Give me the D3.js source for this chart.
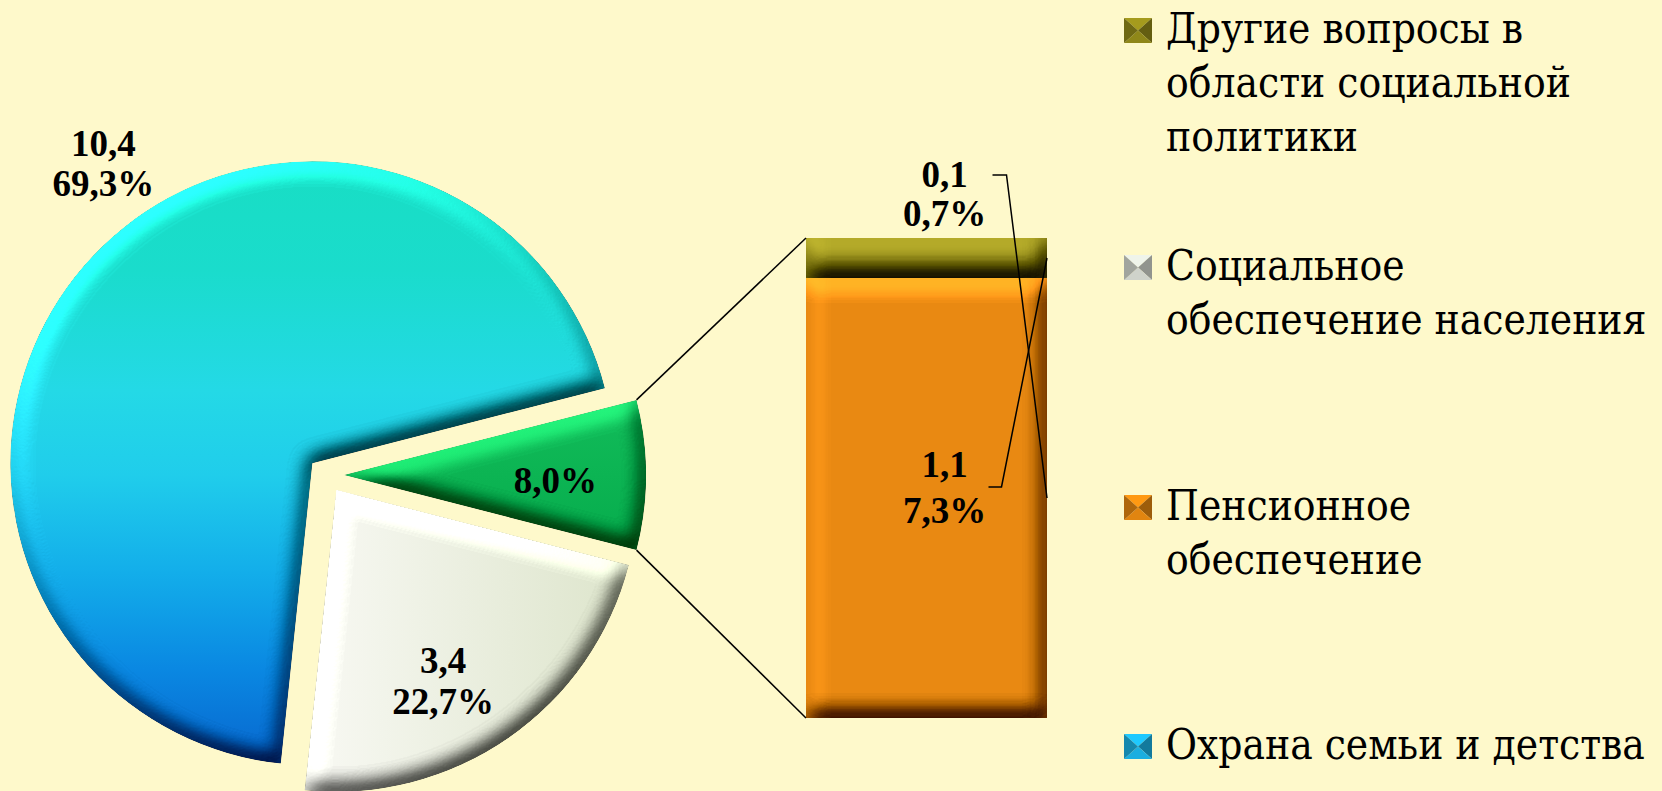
<!DOCTYPE html>
<html>
<head>
<meta charset="utf-8">
<script src="https://cdn.jsdelivr.net/npm/d3@7"></script>
<style>
  html, body { margin: 0; padding: 0; background: #FEF9CB; }
  svg { display: block; }
</style>
</head>
<body>
<svg id="chart" width="1662" height="791"></svg>
<script>
// ---------------- DATA ----------------
const mainCategories = ["Социальное обеспечение населения", "Охрана семьи и детства"];
const mainValues = [3.4, 10.4];
const mainValueLabels = ["3,4", "10,4"];
const mainPercentLabels = ["22,7%", "69,3%"];
const otherPercentLabel = "8,0%";

const barCategories = ["Пенсионное обеспечение", "Другие вопросы в области социальной политики"];
const barValues = [1.1, 0.1];
const barValueLabels = ["1,1", "0,1"];
const barPercentLabels = ["7,3%", "0,7%"];

const legendNames = [
  "Другие вопросы в области социальной политики",
  "Социальное обеспечение населения",
  "Пенсионное обеспечение",
  "Охрана семьи и детства"
];
const legendLines = [
  ["Другие вопросы в", "области социальной", "политики"],
  ["Социальное", "обеспечение населения"],
  ["Пенсионное", "обеспечение"],
  ["Охрана семьи и детства"]
];

const barColors = {
  "Другие вопросы в области социальной политики": "#8A8216",
  "Пенсионное обеспечение": "#E98912"
};
const legendColors = {
  "Другие вопросы в области социальной политики": "#8A8218",
  "Социальное обеспечение населения": "#C8CCC4",
  "Пенсионное обеспечение": "#D9800F",
  "Охрана семьи и детства": "#1AA8D8"
};

// ---------------- LAYOUT ----------------
const svg = d3.select("#chart");
const W = 1662, H = 791;
svg.append("rect").attr("width", W).attr("height", H).attr("fill", "#FEF9CB");

const cx = 326, cy = 475, R = 302, explode = 18;
const labelFont = "Liberation Serif, serif";
const legendFont = "DejaVu Serif Condensed, DejaVu Serif, serif";

const defs = svg.append("defs");

function bevelFilter(id, std, scale, elev, hl) {
  const f = defs.append("filter").attr("id", id)
    .attr("x", "-5%").attr("y", "-5%").attr("width", "110%").attr("height", "110%")
    .attr("color-interpolation-filters", "sRGB");
  f.append("feGaussianBlur").attr("in", "SourceAlpha").attr("stdDeviation", std).attr("result", "blur");
  const l = f.append("feDiffuseLighting").attr("in", "blur").attr("surfaceScale", scale)
    .attr("diffuseConstant", 1).attr("lighting-color", "#ffffff").attr("result", "light");
  l.append("feDistantLight").attr("azimuth", 245).attr("elevation", elev);
  const L0 = Math.sin(elev * Math.PI / 180);
  const a = 1.0, c = 1 - a * L0, b = hl, d = -b * L0;
  f.append("feComposite").attr("in", "SourceGraphic").attr("in2", "light")
    .attr("operator", "arithmetic").attr("k1", a).attr("k2", c).attr("k3", b).attr("k4", d)
    .attr("result", "lit");
  f.append("feComposite").attr("in", "lit").attr("in2", "SourceAlpha").attr("operator", "in");
}
bevelFilter("bevelPie", 10, 9, 50, 0.25);
bevelFilter("bevelBar", 10, 10, 50, 0.3);

// gradients (local coordinates of each slice)
const gBlue = defs.append("linearGradient").attr("id", "gBlue")
  .attr("gradientUnits", "userSpaceOnUse").attr("x1", 0).attr("y1", -R).attr("x2", 0).attr("y2", R);
[[0, "#18DEC4"], [0.18, "#1ADCCC"], [0.38, "#24D9E6"], [0.52, "#20CDEB"], [0.68, "#13AEEA"], [0.84, "#0A88E2"], [1, "#0866CE"]]
  .forEach(s => gBlue.append("stop").attr("offset", s[0]).attr("stop-color", s[1]));

const gWhite = defs.append("linearGradient").attr("id", "gWhite")
  .attr("gradientUnits", "userSpaceOnUse").attr("x1", 0).attr("y1", 0).attr("x2", R).attr("y2", 0);
[[0, "#F6F7F0"], [1, "#DCE4CA"]].forEach(s => gWhite.append("stop").attr("offset", s[0]).attr("stop-color", s[1]));

const gGreen = defs.append("linearGradient").attr("id", "gGreen")
  .attr("x1", 0).attr("y1", 0).attr("x2", 0).attr("y2", 1);
[[0, "#12BC5A"], [1, "#06AC4C"]].forEach(s => gGreen.append("stop").attr("offset", s[0]).attr("stop-color", s[1]));

const fills = {
  "Охрана семьи и детства": "url(#gBlue)",
  "Социальное обеспечение населения": "url(#gWhite)",
  "other": "url(#gGreen)"
};

// ---------------- PIE ----------------
const otherValue = d3.sum(barValues);
const pieData = [{ key: "other", value: otherValue, vlabel: null, plabel: otherPercentLabel }]
  .concat(mainCategories.map((c, i) => ({ key: c, value: mainValues[i], vlabel: mainValueLabels[i], plabel: mainPercentLabels[i] })));
const total = d3.sum(pieData, d => d.value);
const otherAngle = otherValue / total * 2 * Math.PI;
const start = Math.PI / 2 - otherAngle / 2;

const pie = d3.pie().sort(null).value(d => d.value).startAngle(start).endAngle(start + 2 * Math.PI);
const arcs = pie(pieData);
const arc = d3.arc().innerRadius(0).outerRadius(R);

function polar(a, r) { return [Math.sin(a) * r, -Math.cos(a) * r]; }

arcs.forEach(a => {
  const mid = (a.startAngle + a.endAngle) / 2;
  a.off = polar(mid, explode);
  a.mid = mid;
});
const pieG = svg.append("g").attr("transform", `translate(${cx},${cy})`);
pieG.selectAll("g.slice").data(arcs).join("g")
  .attr("class", "slice")
  .attr("transform", d => `translate(${d.off[0]},${d.off[1]})`)
  .append("path")
  .attr("d", arc)
  .attr("fill", d => fills[d.data.key])
  .attr("filter", "url(#bevelPie)");

// ---------------- BAR ----------------
const barX0 = 806, barW = 241, barTop = 238, barBottom = 718;
const y = d3.scaleLinear().domain([0, otherValue]).range([barBottom, barTop]);
let cum = 0;
const barSegs = barCategories.map((c, i) => {
  const s = { key: c, v0: cum, v1: cum + barValues[i], vlabel: barValueLabels[i], plabel: barPercentLabels[i] };
  cum += barValues[i];
  return s;
});
svg.append("g").selectAll("rect").data(barSegs).join("rect")
  .attr("x", barX0).attr("width", barW)
  .attr("y", d => y(d.v1)).attr("height", d => y(d.v0) - y(d.v1))
  .attr("fill", d => barColors[d.key])
  .attr("filter", "url(#bevelBar)");

// connector lines from the "other" slice to the bar
const oa = arcs[0];
const p1 = [cx + oa.off[0] + polar(oa.startAngle, R)[0], cy + oa.off[1] + polar(oa.startAngle, R)[1]];
const p2 = [cx + oa.off[0] + polar(oa.endAngle, R)[0], cy + oa.off[1] + polar(oa.endAngle, R)[1]];
svg.append("line").attr("x1", p1[0]).attr("y1", p1[1]).attr("x2", barX0).attr("y2", y(otherValue))
  .attr("stroke", "#000").attr("stroke-width", 1.5);
svg.append("line").attr("x1", p2[0]).attr("y1", p2[1]).attr("x2", barX0).attr("y2", y(0))
  .attr("stroke", "#000").attr("stroke-width", 1.5);

// ---------------- LABELS ----------------
function twoLine(x, yc, lines, gap) {
  const t = svg.append("text").attr("font-family", labelFont).attr("font-weight", "bold")
    .attr("font-size", 37).attr("fill", "#000").attr("text-anchor", "middle");
  const n = lines.length;
  lines.forEach((s, i) => {
    t.append("tspan").attr("x", x).attr("y", yc + (i - (n - 1) / 2) * gap)
      .attr("dominant-baseline", "central").text(s);
  });
}
arcs.forEach(a => {
  const ox = cx + a.off[0], oy = cy + a.off[1];
  if (a.data.key === "other") {
    const p = polar(a.mid, 0.7 * R);
    twoLine(ox + p[0], oy + p[1] + 5, [a.data.plabel], 40);
  } else if (a.data.key === "Социальное обеспечение населения") {
    const p = polar(a.mid + 0.094, 0.72 * R);
    twoLine(ox + p[0], oy + p[1] + 2, [a.data.vlabel, a.data.plabel], 41);
  } else {
    const p = polar(a.mid + 0.25, 1.21 * R);
    twoLine(ox + p[0], oy + p[1], [a.data.vlabel, a.data.plabel], 40);
  }
});

const xr = barX0 + barW;
const segOrange = barSegs[0], segOlive = barSegs[1];
const barMid = barX0 + barW / 2;
const oliveLy = barTop - 44;
twoLine(barMid + 18, oliveLy, [segOlive.vlabel, segOlive.plabel], 39);
const orangeLy = y((segOrange.v0 + segOrange.v1) / 2) - 11;
twoLine(barMid + 18, orangeLy, [segOrange.vlabel, segOrange.plabel], 46);

const leader = d3.line();
svg.append("path").attr("fill", "none").attr("stroke", "#000").attr("stroke-width", 1.5)
  .attr("d", leader([[barMid + 66, oliveLy - 19], [barMid + 80, oliveLy - 19], [xr, y((segOrange.v0 + segOrange.v1) / 2)]]));
svg.append("path").attr("fill", "none").attr("stroke", "#000").attr("stroke-width", 1.5)
  .attr("d", leader([[barMid + 62, orangeLy], [barMid + 75, orangeLy], [xr, y((segOlive.v0 + segOlive.v1) / 2)]]));

// ---------------- LEGEND ----------------
const legX = 1124, legTextX = 1166, mW = 28, mH = 25;
const legBaselines = [43, 280, 520, 759];
const lineH = 54;
legendNames.forEach((name, i) => {
  const g = svg.append("g");
  const base = d3.color(legendColors[name]);
  const x0 = legX, y0 = legBaselines[i] - mH, x1 = legX + mW, y1 = legBaselines[i];
  const mx = (x0 + x1) / 2, my = (y0 + y1) / 2;
  const tris = [
    [[x0, y0], [x1, y0], [mx, my], base.brighter(0.5)],
    [[x1, y0], [x1, y1], [mx, my], base.darker(0.9)],
    [[x1, y1], [x0, y1], [mx, my], base.brighter(0.1)],
    [[x0, y1], [x0, y0], [mx, my], base.darker(0.6)]
  ];
  tris.forEach(t => g.append("path").attr("d", `M${t[0]}L${t[1]}L${t[2]}Z`).attr("fill", t[3].formatHex()));
  const txt = g.append("text").attr("font-family", legendFont).attr("font-size", 42).attr("fill", "#000");
  legendLines[i].forEach((s, j) => {
    txt.append("tspan").attr("x", legTextX).attr("y", legBaselines[i] + j * lineH).text(s);
  });
});
</script>
</body>
</html>
